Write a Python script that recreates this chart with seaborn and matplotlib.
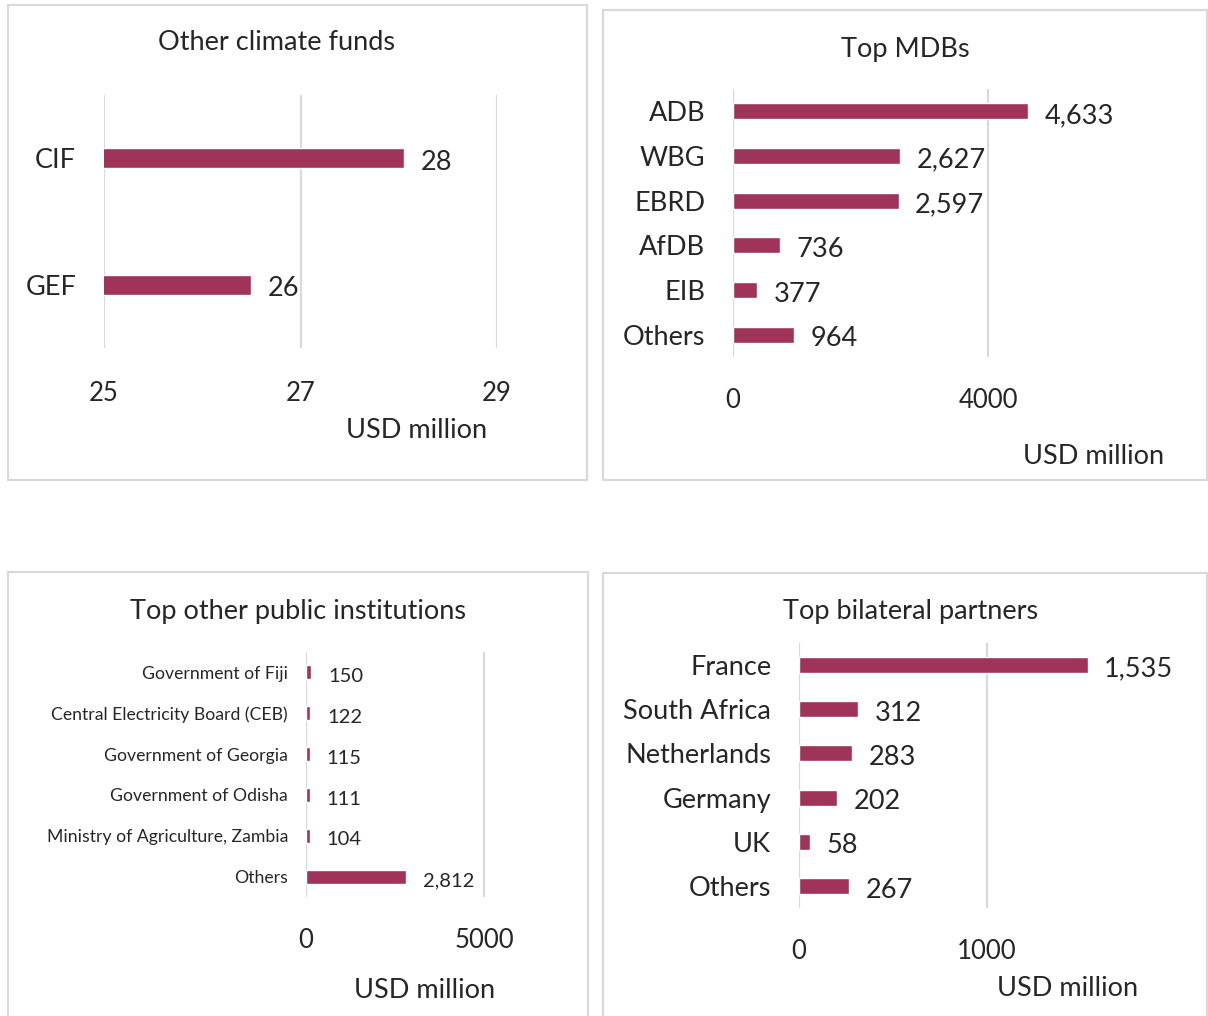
import matplotlib
matplotlib.use("Agg")
import matplotlib.pyplot as plt
import seaborn as sns
import pandas as pd
from matplotlib.patches import Rectangle

# data
fund_names = ["CIF", "GEF"]
fund_values = [28.05, 26.5]

mdb_names = ["ADB", "WBG", "EBRD", "AfDB", "EIB", "Others"]
mdb_values = [4633, 2627, 2597, 736, 377, 964]

inst_names = ["Government of Fiji", "Central Electricity Board (CEB)",
              "Government of Georgia", "Government of Odisha",
              "Ministry of Agriculture, Zambia", "Others"]
inst_values = [150, 122, 115, 111, 104, 2812]

bil_names = ["France", "South Africa", "Netherlands", "Germany", "UK", "Others"]
bil_values = [1535, 312, 283, 202, 58, 267]

BAR = "#A0335A"
GRID = "#D9D9D9"
W, H = 1208, 1016

sns.set_theme(style="white")
plt.rcParams["font.family"] = ["Lato", "DejaVu Sans"]

fig = plt.figure(figsize=(W / 100, H / 100), dpi=100)


def px_axes(l, t, r, b):
    return fig.add_axes([l / W, 1 - b / H, (r - l) / W, (b - t) / H])


def border(l, t, r, b):
    fig.patches.append(Rectangle((l / W, 1 - b / H), (r - l) / W, (b - t) / H,
                                 transform=fig.transFigure, fill=False,
                                 edgecolor=GRID, linewidth=1.6))


def panel(box, ax_box, names, values, xlim, ticks, bar_h, title, title_xy,
          unit_xy, label_size, fmt, ypad, xpad=22):
    border(*box)
    ax = px_axes(*ax_box)
    df = pd.DataFrame({"name": names, "value": values})
    sns.barplot(data=df, x="value", y="name", color=BAR, width=bar_h,
                saturation=1, ax=ax, orient="h")
    ax.set_xlim(*xlim)
    ax.set_xticks(ticks)
    ax.set_xticklabels([str(t) for t in ticks], fontsize=18.5)
    ax.tick_params(axis="x", length=0, pad=xpad)
    ax.tick_params(axis="y", length=0, pad=ypad, labelsize=label_size)
    ax.grid(axis="x", color=GRID, linewidth=1.6)
    ax.set_axisbelow(True)
    for s in ax.spines.values():
        s.set_visible(False)
    ax.set_xlabel("")
    ax.set_ylabel("")
    for i, v in enumerate(values):
        ax.annotate(fmt(v), (v, i), xytext=(12, -3), textcoords="offset points",
                    ha="left", va="center",
                    fontsize=label_size if label_size > 14 else 14.5)
    fig.text(title_xy[0] / W, 1 - title_xy[1] / H, title, ha="center",
             va="center", fontsize=19.5)
    fig.text(unit_xy[0] / W, 1 - unit_xy[1] / H, "USD million", ha="center",
             va="center", fontsize=19.5)
    return ax


def comma(v):
    return f"{v:,.0f}"


panel((8, 5, 587, 480), (104, 95, 497, 348), fund_names, fund_values,
      (25, 29), [25, 27, 29], 0.16, "Other climate funds", (277, 43),
      (417, 430), 19.5, comma, ypad=20, xpad=24)

panel((603, 10, 1207, 480), (733, 89, 1180, 357), mdb_names, mdb_values,
      (0, 4000 * (1180 - 733) / 255), [0, 4000], 0.36, "Top MDBs", (905, 50),
      (1094, 456), 19.5, comma, ypad=20)

panel((8, 572, 588, 1030), (306, 652, 560, 897), inst_names, inst_values,
      (0, 5000 * (560 - 306) / 178), [0, 5000], 0.34,
      "Top other public institutions", (298, 612), (425, 990), 12.7, comma,
      ypad=13)

panel((603, 573, 1207, 1030), (799, 643, 1180, 908), bil_names, bil_values,
      (0, 1000 * (1180 - 799) / 188), [0, 1000], 0.36,
      "Top bilateral partners", (911, 611), (1068, 989), 19.5, comma, ypad=20)

fig.savefig("out.png", dpi=100, facecolor="white")
